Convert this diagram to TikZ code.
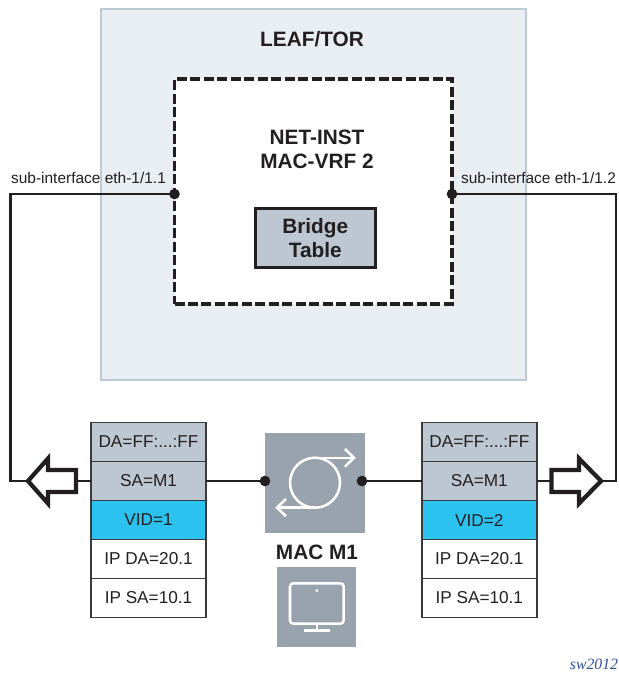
\documentclass[tikz,border=0pt]{standalone}
\usepackage{fontspec}
\setmainfont{Liberation Sans}
\newfontfamily\swfont{Liberation Serif}
\definecolor{ink}{HTML}{231F20}
\definecolor{rowline}{HTML}{3A3A3C}
\definecolor{leaffill}{HTML}{E9EEF2}
\definecolor{leafline}{HTML}{BDC9D5}
\definecolor{rowgrey}{HTML}{BDC7D2}
\definecolor{vidblue}{HTML}{2CC2F0}
\definecolor{icongrey}{HTML}{98A3AE}
\definecolor{swblue}{HTML}{2F4F9F}
\tikzset{
  x=0.75pt,y=-0.75pt,
  every node/.style={outer sep=0pt,inner sep=0pt,text=ink},
  wire/.style={draw=ink,line width=2pt},
  portdot/.style={circle,fill=ink,minimum size=8pt},
  rowbox/.style={draw=rowline,line width=1.1pt,minimum width=86.25pt,minimum height=29.1pt,font=\fontsize{12.9}{15}\selectfont},
  greyrow/.style={rowbox,fill=rowgrey},
  bluerow/.style={rowbox,fill=vidblue},
  whiterow/.style={rowbox,fill=white},
  iconbox/.style={fill=icongrey},
  iconline/.style={draw=white,line width=1.9pt},
  boldlabel/.style={font=\fontsize{15.6}{18}\bfseries\selectfont,align=center},
  subif/.style={font=\fontsize{11.6}{14}\selectfont},
  hollowarrow/.style={draw=ink,fill=white,line width=3.2pt,miter limit=10,line join=miter},
}
\begin{document}
\begin{tikzpicture}
\useasboundingbox (0,0) rectangle (618,673);
% Leaf
\node[fill=leaffill,draw=leafline,line width=2.1pt,minimum width=318.75pt,minimum height=278.25pt] (leaf) at (313.5,194.5) {};
\node[boldlabel] (leaftitle) at (312,39) {LEAF/TOR};
% Net-inst
\node[fill=white,draw=ink,line width=2.4pt,dash pattern=on 7.5pt off 2.6pt,minimum width=208.1pt,minimum height=168.75pt] (inst) at (313.25,191.5) {};
\node[boldlabel] (insttitle) at (317,149.5) {NET-INST\\MAC-VRF 2};
\node[draw=ink,fill=rowgrey,line width=2.1pt,minimum width=90pt,minimum height=43.9pt,boldlabel] (bridge) at (315.25,238) {Bridge\\Table};
% Ports
\node[portdot] (dotL) at (174.5,194) {};
\node[portdot] (dotR) at (452,194) {};
\node[subif] (subL) at (88.5,178) {sub-interface eth-1/1.1};
\node[subif] (subR) at (538.5,178) {sub-interface eth-1/1.2};
% Frames
\node[greyrow] (la) at (148.5,442) {DA=FF:...:FF};
\node[greyrow] (lb) at (148.5,481) {SA=M1};
\node[bluerow] (lc) at (148.5,520) {VID=1};
\node[whiterow] (ld) at (148.5,559) {IP DA=20.1};
\node[whiterow] (le) at (148.5,598) {IP SA=10.1};
\node[greyrow] (ra) at (479.3,442) {DA=FF:...:FF};
\node[greyrow] (rb) at (479.3,481) {SA=M1};
\node[bluerow] (rc) at (479.3,520) {VID=2};
\node[whiterow] (rd) at (479.3,559) {IP DA=20.1};
\node[whiterow] (re) at (479.3,598) {IP SA=10.1};
% Switch icon
\node[iconbox,minimum width=75pt,minimum height=75pt] (sw) at (315,483) {};
\draw[iconline] (315,482.7) circle (25);
\draw[iconline] (315,457.8) -- (353,457.8);
\draw[iconline] (345,449) -- (354,457.8) -- (345,466.6);
\draw[iconline] (315,507.6) -- (277,507.6);
\draw[iconline] (286,499) -- (277,507.6) -- (286,516.2);
\node[portdot] (dotA) at (265,481) {};
\node[portdot] (dotB) at (362,481) {};
\node[boldlabel] (mac) at (317,552) {MAC M1};
% Host icon
\node[iconbox,minimum width=59.25pt,minimum height=60pt] (host) at (316.8,607) {};
\draw[iconline,rounded corners=2.5pt] (290,583.3) rectangle (343.7,623.7);
\draw[iconline] (316.8,623.7) -- (316.8,630.5);
\draw[iconline] (304,630.5) -- (330,630.5);
\fill[white] (316.8,590.5) circle (1.7);
% Hollow arrows
\coordinate (tipL) at (28,481);
\coordinate (tailL) at (76,481);
\coordinate (tipR) at (601,481);
\coordinate (tailR) at (551.5,481);
\coordinate (cornerLa) at (10.5,194);
\coordinate (cornerLb) at (10.5,481);
\coordinate (cornerRa) at (616,194);
\coordinate (cornerRb) at (616,481);
% Connectors
\draw[wire,line join=miter] (dotL.center) -- (cornerLa) -- (cornerLb) -- (tipL);
\draw[wire,line join=miter] (dotR.center) -- (cornerRa) -- (cornerRb) -- (tipR);
\draw[wire] (tailL) -- (lb.west);
\draw[wire] (tailR) -- (rb.east);
\draw[wire] (lb.east) -- (dotA.center);
\draw[wire] (rb.west) -- (dotB.center);
\draw[hollowarrow] (28,481) -- (48,458.5) -- (48,470) -- (76,470) -- (76,492) -- (48,492) -- (48,503.5) -- cycle;
\draw[hollowarrow] (601,481) -- (579,458.5) -- (579,470) -- (551.5,470) -- (551.5,492) -- (579,492) -- (579,503.5) -- cycle;
% Signature
\node[anchor=east,font=\swfont\itshape\fontsize{11.8}{14}\selectfont,text=swblue] (sign) at (618,664) {sw2012};
\end{tikzpicture}
\end{document}
